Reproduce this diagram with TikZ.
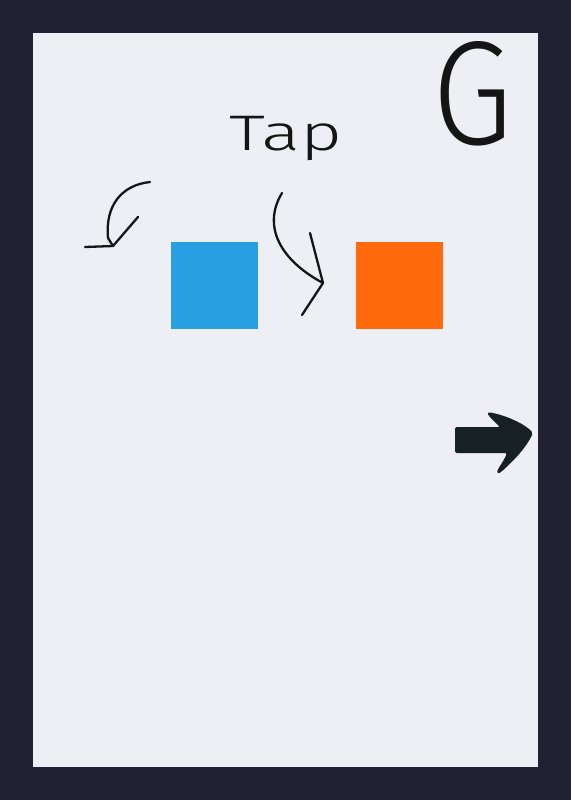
\documentclass[tikz,border=0pt]{standalone}
\usepackage{fontspec}
\newfontfamily\handfont{Fira Sans}[UprightFont=* Light]
\usepackage{xcolor}
\usetikzlibrary{positioning,calc}

\definecolor{frame}{HTML}{222033}
\definecolor{panel}{HTML}{EEEEF5}
\definecolor{tapblue}{HTML}{279FE0}
\definecolor{taporange}{HTML}{FF6A0C}
\definecolor{ink}{HTML}{151515}
\definecolor{nextink}{HTML}{172023}

\tikzset{
  tile/.style={minimum size=43.5pt, inner sep=0pt, draw=none},
  scribble/.style={draw=ink, line width=1.15pt, line cap=round, line join=round},
  hand/.style={font=\handfont, text=ink, inner sep=0pt}
}

\begin{document}
\begin{tikzpicture}[x=0.5pt,y=-0.5pt]
\fill[frame] (0,0) rectangle (571,800);
\fill[panel] (33,33) rectangle (538,767);

% the two squares
\node[tile, fill=tapblue] (blue) at (214,285.5) {};
\node[tile, fill=taporange] (orange) at (399.5,285.5) {};

% labels
\node[hand, anchor=base, font=\handfont\fontsize{25}{25}\selectfont, xscale=1.45] (tap) at (286,150) {Tap};
\node[hand, anchor=base, font=\handfont\fontsize{74}{74}\selectfont, xscale=0.88] (gee) at (473,144) {G};

% scribbled arrows
\draw[scribble] (150,182) .. controls (122,185) and (105,205) .. (108,238) -- (113,246);
\draw[scribble] (85,247) -- (113,246) -- (138,217);
\draw[scribble] (282,193) .. controls (262,226) and (280,260) .. (323,283);
\draw[scribble] (310,233) -- (323,283) -- (302,315);

% next arrow
\fill[nextink, rounded corners=1pt] (455,427) -- (500,427) -- (489,416)
  .. controls (487,413) and (489,412) .. (493,413)
  .. controls (510,417) and (526,425) .. (533,433)
  .. controls (525,450) and (510,464) .. (501,472)
  .. controls (498,474) and (497,472) .. (498,469)
  .. controls (502,463) and (505,458) .. (507,453)
  -- (455,453) -- cycle;
\end{tikzpicture}
\end{document}
